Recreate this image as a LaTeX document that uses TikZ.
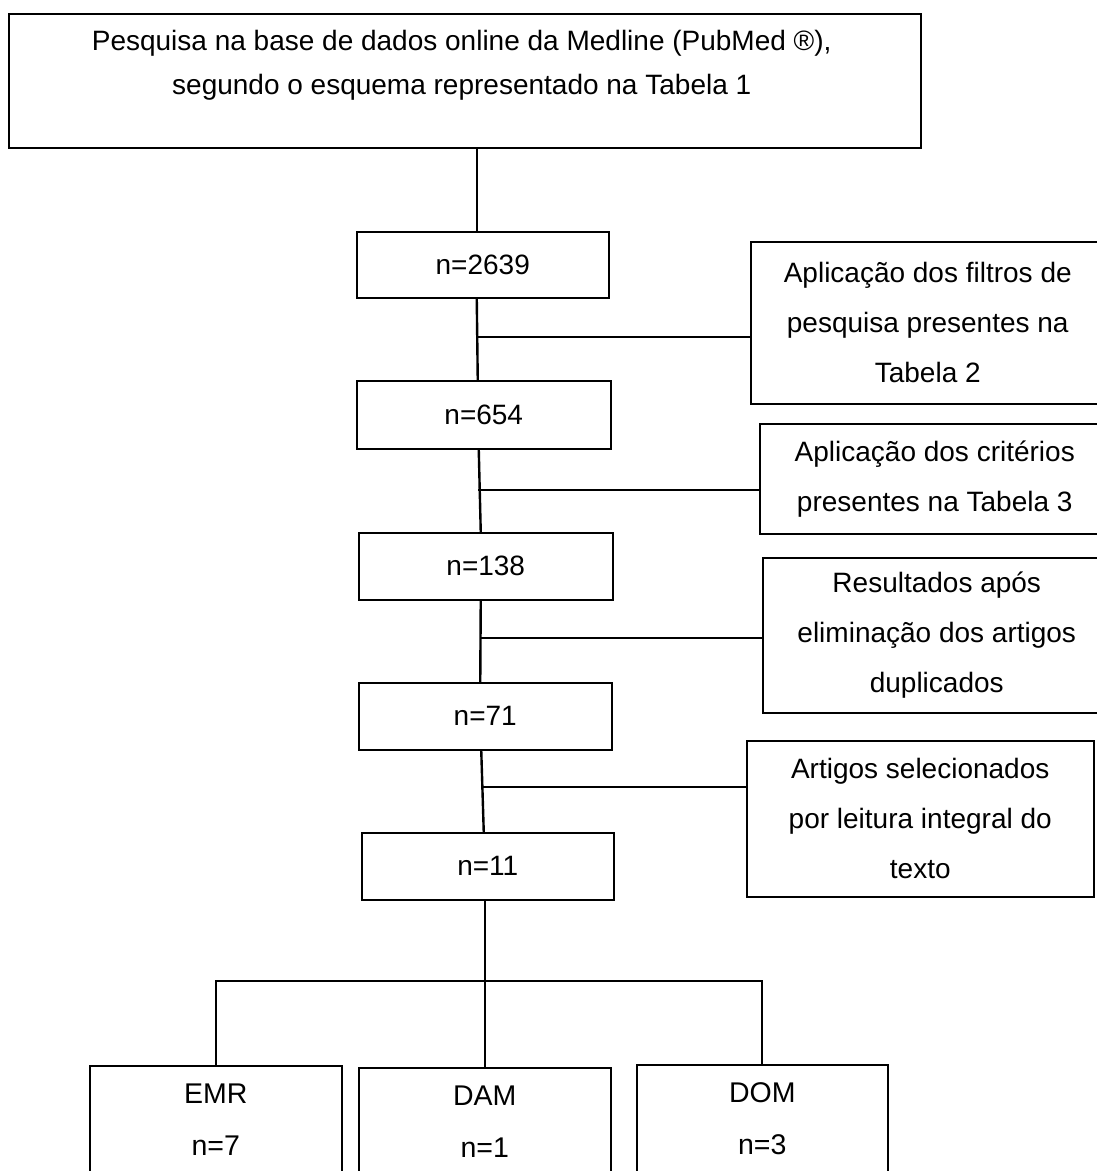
\documentclass[tikz,border=0pt]{standalone}
\usepackage{fontspec}
\setmainfont{Liberation Sans}
\usetikzlibrary{positioning}

\tikzset{
	box/.style = {draw, line width=1.5pt, inner sep=0pt, align=center},
	numbox/.style = {box, font=\fontsize{28}{50}\selectfont},
	notebox/.style = {box, font=\fontsize{28}{50}\selectfont},
	groupbox/.style = {box, font=\fontsize{28.5}{52}\selectfont},
	link/.style = {line width=2.4pt},
}

\begin{document}
\begin{tikzpicture}[x=1pt, y=-1pt]
	\useasboundingbox (0,0) rectangle (1096,1171);
%%%%%%%%%%% search
	\node[box, anchor=north west, minimum width=912pt, minimum height=134pt] (search) at (8,13) {};
	\node[align=center, inner sep=0pt, font=\fontsize{28}{44}\selectfont, below=17pt of search.north, xshift=-3pt] (searchtxt) {Pesquisa na base de dados online da Medline (PubMed ®),\\segundo o esquema representado na Tabela 1};
%%%%%%%%%%% counts
	\node[numbox, anchor=north west, minimum width=252pt, minimum height=66pt] (n2639) at (356,231) {n=2639};
	\node[numbox, anchor=north west, minimum width=254pt, minimum height=68pt] (n654) at (356,380) {n=654};
	\node[numbox, anchor=north west, minimum width=254pt, minimum height=67pt] (n138) at (358,532) {n=138};
	\node[numbox, anchor=north west, minimum width=253pt, minimum height=67pt] (n71) at (358,682) {n=71};
	\node[numbox, anchor=north west, minimum width=252pt, minimum height=67pt] (n11) at (361,832) {n=11};
%%%%%%%%%%% steps
	\node[notebox, anchor=north west, minimum width=354pt, minimum height=162pt] (filtros) at (750,241) {Aplicação dos filtros de\\pesquisa presentes na\\Tabela 2};
	\node[notebox, anchor=north west, minimum width=350pt, minimum height=110pt] (criterios) at (759,423) {Aplicação dos critérios\\presentes na Tabela 3};
	\node[notebox, anchor=north west, minimum width=348pt, minimum height=155pt] (duplicados) at (762,557) {Resultados após\\eliminação dos artigos\\duplicados};
	\node[notebox, anchor=north west, minimum width=347pt, minimum height=156pt] (leitura) at (746,740) {Artigos selecionados\\por leitura integral do\\texto};
%%%%%%%%%%% groups
	\node[groupbox, anchor=north west, minimum width=252pt, minimum height=108pt] (emr) at (89,1065) {EMR\\n=7};
	\node[groupbox, anchor=north west, minimum width=252pt, minimum height=108pt] (dam) at (358,1067) {DAM\\n=1};
	\node[groupbox, anchor=north west, minimum width=251pt, minimum height=108pt] (dom) at (636,1064) {DOM\\n=3};
%%%%%%%%%%% spine
	\draw[link] ([xshift=-6pt]n2639.north |- search.south) -- ([xshift=-6pt]n2639.north);
	\draw[link] ([xshift=-6pt]n2639.south) -- ([xshift=-6pt]n654.north);
	\draw[link] ([xshift=-5pt]n654.south) -- ([xshift=-5pt]n138.north);
	\draw[link] ([xshift=-5pt]n138.south) -- ([xshift=-5pt]n71.north);
	\draw[link] ([xshift=-4pt]n71.south) -- ([xshift=-4pt]n11.north);
%%%%%%%%%%% side links
	\coordinate (j1) at (476,337);
	\coordinate (j2) at (478,490);
	\coordinate (j3) at (480,638);
	\coordinate (j4) at (481,787);
	\draw[link] (j1) -- (j1 -| filtros.west);
	\draw[link] (j2) -- (j2 -| criterios.west);
	\draw[link] (j3) -- (j3 -| duplicados.west);
	\draw[link] (j4) -- (j4 -| leitura.west);
%%%%%%%%%%% split
	\coordinate (bus) at (482,981);
	\draw[link] ([xshift=-3pt]n11.south) -- (dam.north);
	\draw[link] (emr.north) |- (dom.north |- bus) -- (dom.north);
\end{tikzpicture}
\end{document}
